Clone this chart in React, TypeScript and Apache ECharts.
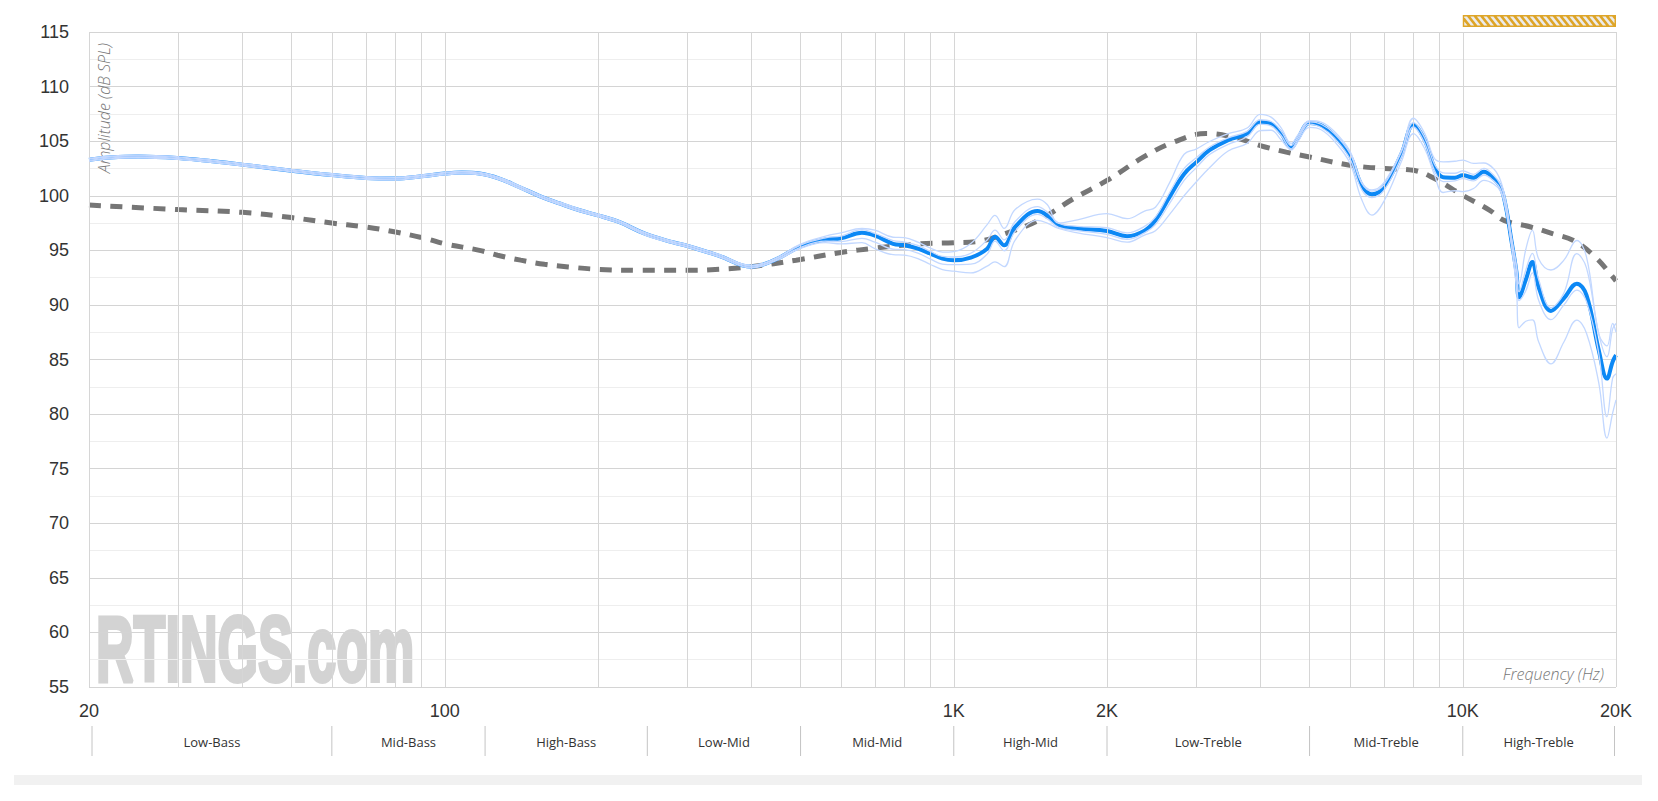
import React, { useEffect, useRef } from "react";
import * as echarts from "echarts";

// ---- data ----
const FREQS = [20,22,25,30,35,40,50,60,70,80,90,100,108,117,128,140,154,168,184,200,220,248,280,300,346,400,444,500,560,600,660,700,760,800,850,900,950,1000,1080,1163,1205,1256,1320,1460,1526,1607,1750,2000,2190,2370,2490,2655,2835,3000,3180,3460,3770,4000,4200,4400,4600,4740,5000,5270,5590,6000,6330,6630,7000,7580,8000,8420,8800,9150,9650,10000,10500,11000,11500,11860,12150,12450,12750,12900,13300,13700,14100,14900,15800,16750,17500,18500,19200,19700,20000];

const AVERAGE = [103.3,103.5,103.6,103.45,103.15,102.85,102.3,101.9,101.63,101.57,101.78,102.03,102.12,102.03,101.57,100.8,99.95,99.3,98.67,98.2,97.6,96.5,95.75,95.4,94.5,93.5,94.1,95.37,96.0,96.1,96.6,96.35,95.6,95.46,95.15,94.7,94.24,94.09,94.33,95.15,96.25,95.46,97.14,98.6,98.2,97.3,97.0,96.77,96.3,96.8,97.75,99.9,102.0,103.1,104.17,105.1,105.7,106.76,106.6,105.7,104.4,105.24,106.67,106.45,105.5,103.7,100.96,100.13,100.8,103.86,106.5,105.1,102.6,101.7,101.66,101.87,101.66,102.2,101.57,100.8,99.0,96.0,93.0,90.7,92.3,93.93,91.6,89.45,90.6,91.95,90.9,85.85,83.25,84.8,85.4];

const MEASURE_1 = [103.42,103.62,103.72,103.57,103.27,102.97,102.42,102.02,101.75,101.69,101.9,102.15,102.24,102.15,101.69,100.92,100.07,99.42,98.79,98.32,97.72,96.62,95.87,95.52,94.62,93.62,94.22,95.57,96.3,96.6,97.0,96.85,96.2,96.16,95.75,95.2,94.84,94.89,95.63,97.35,98.2,97.01,98.74,99.7,99.2,97.5,97.8,98.37,97.9,98.6,98.95,101.2,103.8,104.3,104.97,105.7,106.2,107.46,107.2,106.2,104.8,105.54,106.87,106.75,105.9,104.1,101.26,100.53,101.2,104.16,107.1,105.7,103.4,103.1,103.16,103.27,102.96,103.0,102.47,101.4,99.5,96.3,93.6,91.9,95.1,96.83,94.2,93.2,94.1,95.9,94.4,87.35,86.25,88.3,87.5];

const MEASURE_2 = [103.18,103.38,103.48,103.33,103.03,102.73,102.18,101.78,101.51,101.45,101.66,101.91,102.0,101.91,101.45,100.68,99.83,99.18,98.55,98.08,97.48,96.38,95.63,95.28,94.38,93.38,93.98,95.17,95.7,95.6,95.7,95.15,94.6,94.56,94.25,93.7,93.24,93.09,92.93,93.55,93.95,93.51,95.94,97.75,97.5,97.0,96.6,96.17,95.75,96.4,96.8,98.3,100.0,101.3,102.57,104.1,104.8,105.96,106.0,105.1,104.2,104.94,106.27,106.05,105.0,103.0,99.66,98.23,99.5,103.16,105.7,104.3,101.9,100.3,100.46,100.37,100.66,101.4,101.07,100.4,98.7,95.6,91.5,87.9,88.5,88.63,86.6,84.6,86.6,88.6,87.4,82.85,77.8,80.1,81.3];

const MEASURE_3 = [103.35,103.55,103.65,103.5,103.2,102.9,102.35,101.95,101.68,101.62,101.83,102.08,102.17,102.08,101.62,100.85,100.0,99.35,98.72,98.25,97.65,96.55,95.8,95.45,94.55,93.55,94.15,95.47,96.15,96.3,96.9,96.55,95.9,95.76,95.45,94.9,94.44,94.39,94.73,95.95,96.85,95.96,97.64,99.0,98.5,97.5,97.2,97.07,96.6,97.2,98.05,100.3,102.5,103.5,104.47,105.3,105.9,106.96,106.8,105.9,104.6,105.34,106.77,106.55,105.7,103.9,101.16,100.43,101.0,104.06,106.7,105.3,102.9,102.1,102.06,102.27,101.96,102.5,101.87,101.0,99.3,96.3,93.4,91.2,93.2,94.73,92.3,89.75,91.1,94.7,93.4,87.35,85.25,87.8,88.3];

const MEASURE_4 = [103.25,103.45,103.55,103.4,103.1,102.8,102.25,101.85,101.58,101.52,101.73,101.98,102.07,101.98,101.52,100.75,99.9,99.25,98.62,98.15,97.55,96.45,95.7,95.35,94.45,93.45,94.05,95.27,95.85,95.8,96.1,95.75,95.1,95.06,94.75,94.2,93.74,93.69,93.73,94.65,95.85,94.96,96.74,98.3,97.9,97.1,96.8,96.47,96.0,96.6,97.35,99.3,101.4,102.6,103.77,104.7,105.4,106.56,106.4,105.5,104.3,105.14,106.57,106.25,105.3,103.4,100.56,99.83,100.5,103.56,106.3,104.8,102.3,101.3,101.36,101.57,101.36,101.9,101.37,100.6,98.7,95.7,92.5,90.4,91.3,92.93,90.4,88.65,90.0,91.35,90.3,85.55,79.75,83.3,83.7];

const TARGET_FREQS = [20,30,40,50,60,70,80,92,100,117,127,141,157,175,200,239,300,346,400,490,600,700,857,1000,1110,1256,1460,1720,2000,2370,2700,3130,3590,4000,4500,5000,6000,7000,8000,8800,10000,11300,12050,13600,15000,16500,18200,19600,20000];
const TARGET = [99.15,98.73,98.48,98.0,97.5,97.14,96.68,96.07,95.6,95.0,94.55,94.1,93.72,93.48,93.26,93.17,93.17,93.26,93.5,94.1,94.8,95.2,95.6,95.7,95.8,96.5,97.7,99.74,101.4,103.6,104.9,105.7,105.3,104.6,104.0,103.55,102.8,102.5,102.33,101.57,100.04,98.67,97.75,97.14,96.53,95.9,94.4,92.7,92.2];

const GRID_FREQS = [20,30,40,50,60,70,80,90,100,200,300,400,500,600,700,800,900,1000,2000,3000,4000,5000,6000,7000,8000,9000,10000,20000];
const X_TICKS = [20, 100, 1000, 2000, 10000, 20000];
const X_TICK_LABELS = ["20", "100", "1K", "2K", "10K", "20K"];
const BAND_EDGES = [20, 60, 120, 250, 500, 1000, 2000, 5000, 10000, 20000];
const BAND_NAMES = ["Low-Bass", "Mid-Bass", "High-Bass", "Low-Mid", "Mid-Mid", "High-Mid", "Low-Treble", "Mid-Treble", "High-Treble"];
const HIGHLIGHT_RANGE = [10000, 20000];

function pair(xs: number[], ys: number[]) {
  return xs.map((x, i) => [x, ys[i]]);
}

function clipX(poly: number[][], l: number, r: number) {
  const clip = (pts: number[][], inside: (p: number[]) => boolean, edge: number) => {
    const out: number[][] = [];
    for (let i = 0; i < pts.length; i++) {
      const a = pts[i];
      const b = pts[(i + 1) % pts.length];
      const ia = inside(a);
      const ib = inside(b);
      if (ia) out.push(a);
      if (ia !== ib) {
        const t = (edge - a[0]) / (b[0] - a[0]);
        out.push([edge, a[1] + t * (b[1] - a[1])]);
      }
    }
    return out;
  };
  let p = clip(poly, (q) => q[0] >= l, l);
  if (p.length) p = clip(p, (q) => q[0] <= r, r);
  return p;
}

export default function App() {
  const ref = useRef<HTMLDivElement>(null);

  useEffect(() => {
    if (!ref.current) return;
    const chart = echarts.init(ref.current, null, { renderer: "svg" });

    const lightStyle = { color: "#c3d8ff", width: 1.3 };
    const measures = [MEASURE_1, MEASURE_2, MEASURE_3, MEASURE_4].map((vals, i) => ({
      name: "Measurement " + (i + 1),
      type: "line",
      data: pair(FREQS, vals),
      smooth: 0.4,
      symbol: "none",
      showSymbol: false,
      silent: true,
      lineStyle: lightStyle,
      z: 5,
    }));

    chart.setOption({
      animation: false,
      grid: { left: 89, top: 32, right: 42, bottom: 114, containLabel: false, outerBoundsMode: "none" },
      tooltip: { show: false },
      xAxis: {
        type: "log",
        logBase: 10,
        min: 20,
        max: 20000,
        axisLine: { show: false },
        axisTick: { show: false },
        axisLabel: { show: false },
        splitLine: { show: false },
        minorTick: { show: false },
        minorSplitLine: { show: false },
      },
      yAxis: {
        type: "value",
        min: 55,
        max: 115,
        interval: 5,
        axisLine: { show: false },
        axisTick: { show: false },
        axisLabel: { color: "#333", fontSize: 18, margin: 20, fontFamily: "'Liberation Sans', Arial, sans-serif" },
        splitLine: { show: true, lineStyle: { color: "#d4d4d4", width: 1 } },
        minorTick: { show: false, splitNumber: 2 },
        minorSplitLine: { show: true, lineStyle: { color: "#eeeeee", width: 1 } },
      },
      series: [
        {
          name: "grid",
          type: "line",
          data: [],
          silent: true,
          z: 1,
          markLine: {
            silent: true,
            symbol: ["none", "none"],
            label: { show: false },
            emphasis: { disabled: true },
            lineStyle: { color: "#d6d6d6", width: 1, type: "solid" },
            data: GRID_FREQS.map((f) => ({ xAxis: f })),
          },
        },
        {
          name: "Target",
          type: "line",
          data: pair(TARGET_FREQS, TARGET),
          smooth: 0.4,
          symbol: "none",
          showSymbol: false,
          silent: true,
          lineStyle: { color: "#767676", width: 5, type: [12, 9.5] },
          z: 3,
        },
        {
          name: "Average",
          type: "line",
          data: pair(FREQS, AVERAGE),
          smooth: 0.4,
          symbol: "none",
          showSymbol: false,
          silent: true,
          lineStyle: { color: "#0c88f5", width: 4 },
          z: 4,
        },
        ...measures,
      ],
    });

    const px = (f: number) => chart.convertToPixel({ xAxisIndex: 0 }, f) as unknown as number;
    const py = (v: number) => chart.convertToPixel({ yAxisIndex: 0 }, v) as unknown as number;

    const yBottom = py(55);
    const yTop = py(115);
    const elements: any[] = [];

    // watermark
    elements.push({
      type: "text",
      x: px(20) + 7,
      y: yBottom - 38,
      z: -10,
      scaleX: 0.56,
      silent: true,
      style: {
        text: "RTINGS.com",
        fontFamily: "'Liberation Sans', Arial, sans-serif",
        fontWeight: "bold",
        fontSize: 93,
        fill: "#d3d3d3",
        stroke: "#d3d3d3",
        lineWidth: 4,
        align: "left",
        textAlign: "left",
        verticalAlign: "middle",
        textVerticalAlign: "middle",
      },
    });

    // x tick labels
    X_TICKS.forEach((f, i) => {
      elements.push({
        type: "text",
        x: px(f),
        y: yBottom + 24,
        silent: true,
        style: {
          text: X_TICK_LABELS[i],
          fontFamily: "'Liberation Sans', Arial, sans-serif",
          fontSize: 18,
          fill: "#333",
          align: "center",
          textAlign: "center",
          verticalAlign: "middle",
          textVerticalAlign: "middle",
        },
      });
    });

    // bands
    const seps = BAND_EDGES.map((f, i) => {
      let x = px(f);
      if (i === 0) x += 3;
      if (i === BAND_EDGES.length - 1) x -= 1.5;
      return x;
    });
    seps.forEach((x) => {
      elements.push({
        type: "line",
        silent: true,
        shape: { x1: x, y1: yBottom + 39, x2: x, y2: yBottom + 69 },
        style: { stroke: "#c4c4c4", lineWidth: 1 },
      });
    });
    BAND_NAMES.forEach((name, i) => {
      elements.push({
        type: "text",
        x: (seps[i] + seps[i + 1]) / 2,
        y: yBottom + 55,
        silent: true,
        style: {
          text: name,
          fontFamily: "'Open Sans', sans-serif",
          fontSize: 13,
          fill: "#333",
          align: "center",
          textAlign: "center",
          verticalAlign: "middle",
          textVerticalAlign: "middle",
        },
      });
    });

    // bottom grey bar
    elements.push({
      type: "rect",
      silent: true,
      shape: { x: 14, y: 775, width: 1628, height: 10 },
      style: { fill: "#f1f1f1" },
    });

    // axis names
    elements.push({
      type: "text",
      x: px(20) + 15,
      y: yTop + 11,
      rotation: Math.PI / 2,
      silent: true,
      style: {
        text: "Amplitude (dB SPL)",
        fontFamily: "'Open Sans', sans-serif",
        fontStyle: "italic",
        fontWeight: 300,
        fontSize: 16,
        fill: "#777",
        align: "right",
        textAlign: "right",
        verticalAlign: "middle",
        textVerticalAlign: "middle",
      },
    });
    elements.push({
      type: "text",
      x: px(20000) - 12,
      y: yBottom - 13,
      silent: true,
      style: {
        text: "Frequency (Hz)",
        fontFamily: "'Open Sans', sans-serif",
        fontStyle: "italic",
        fontWeight: 300,
        fontSize: 16,
        fill: "#777",
        align: "right",
        textAlign: "right",
        verticalAlign: "middle",
        textVerticalAlign: "middle",
      },
    });

    // hatched highlight bar over 10K-20K
    const hl = px(HIGHLIGHT_RANGE[0]);
    const hr = px(HIGHLIGHT_RANGE[1]);
    const ht = 15;
    const hb = 27;
    elements.push({
      type: "rect",
      silent: true,
      shape: { x: hl, y: ht, width: hr - hl, height: hb - ht },
      style: { fill: "#dea528" },
    });
    const il = hl + 1.5, ir = hr - 1.5, it = ht + 1.5, ib = hb - 1.5;
    const shift = (ib - it) * 0.8;
    const period = 6.6;
    const sw = 3.3;
    for (let x0 = il - shift - period; x0 < ir; x0 += period) {
      const poly = [[x0, it], [x0 + sw, it], [x0 + sw + shift, ib], [x0 + shift, ib]];
      const c = clipX(poly, il, ir);
      if (c.length >= 3) {
        elements.push({
          type: "polygon",
          silent: true,
          shape: { points: c },
          style: { fill: "#ececec" },
        });
      }
    }

    chart.setOption({ graphic: { elements } });

    return () => {
      chart.dispose();
    };
  }, []);

  return (
    <div
      ref={ref}
      style={{ position: "absolute", left: 0, top: 0, width: 1658, height: 801, background: "#ffffff" }}
    />
  );
}
